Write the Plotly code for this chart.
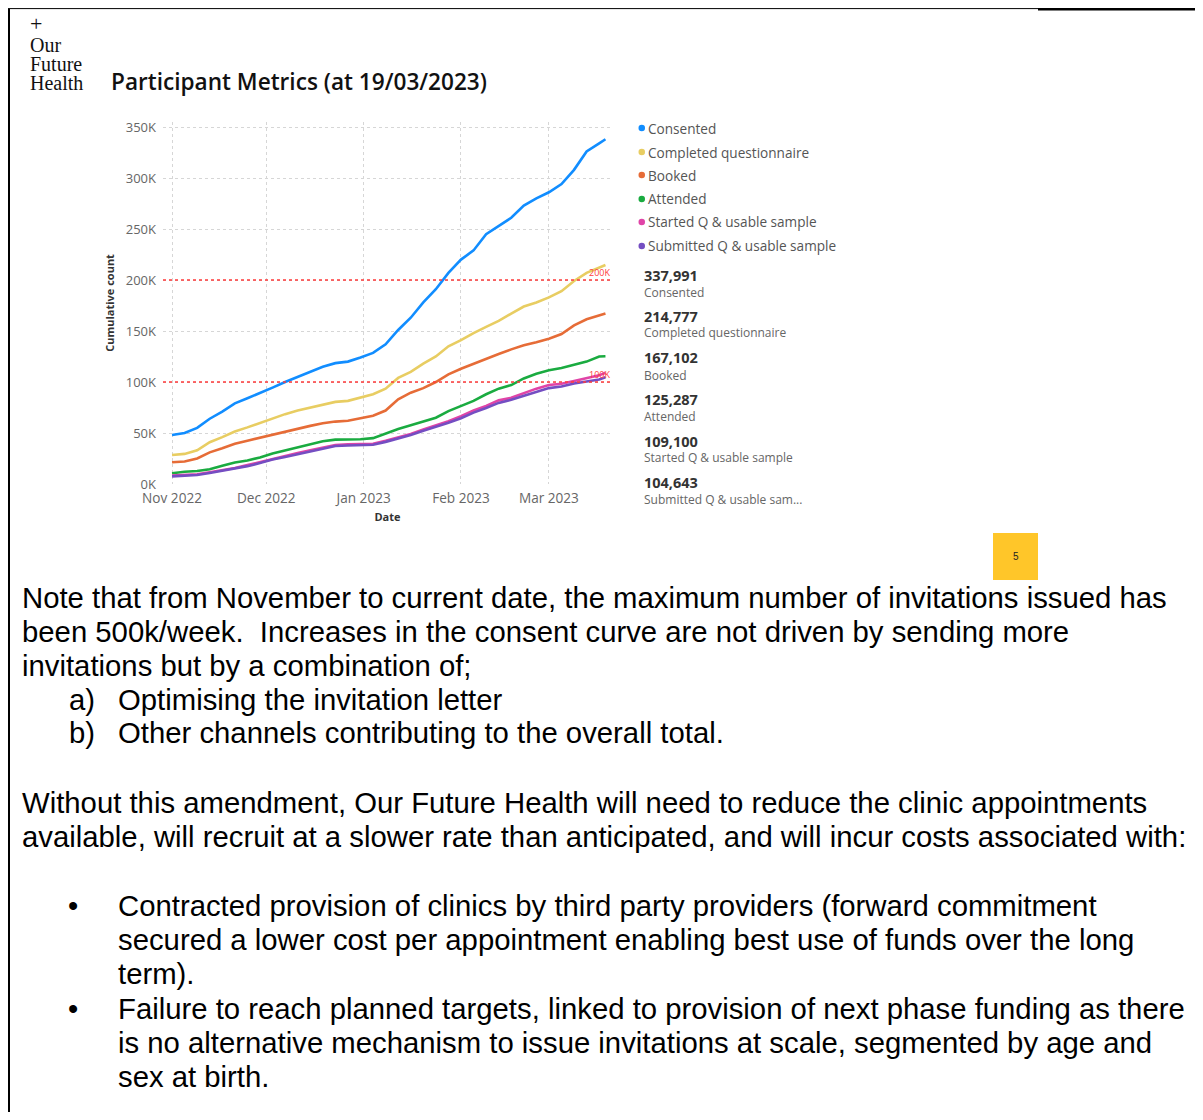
import plotly.graph_objects as go

# The page adds an 8px body margin, so the figure is sized to fill the window exactly.
PAGE_W, PAGE_H = 1203, 1120
OFF = 8
W, H = PAGE_W - 2 * OFF, PAGE_H - 2 * OFF

# ---------------- data ----------------
dates = ["2022-11-01", "2022-11-05", "2022-11-09", "2022-11-13", "2022-11-17", "2022-11-21",
         "2022-11-25", "2022-11-29", "2022-12-03", "2022-12-07", "2022-12-11", "2022-12-15",
         "2022-12-19", "2022-12-23", "2022-12-27", "2022-12-31", "2023-01-04", "2023-01-08",
         "2023-01-12", "2023-01-16", "2023-01-20", "2023-01-24", "2023-01-28", "2023-02-01",
         "2023-02-05", "2023-02-09", "2023-02-13", "2023-02-17", "2023-02-21", "2023-02-25",
         "2023-03-01", "2023-03-05", "2023-03-09", "2023-03-13", "2023-03-17", "2023-03-19"]

consented = [48000, 50000, 55000, 64000, 71000, 79000, 84000, 89000, 94500, 100000, 105000, 110000,
             115000, 118500, 120000, 124000, 128500, 137000, 151000, 163000, 178000, 191000, 207000, 220000,
             229000, 245000, 253000, 261000, 273000, 280000, 286000, 294000, 308000, 326000, 334000, 337991]
completed_q = [28500, 29500, 33000, 41000, 46000, 51500, 55500, 60000, 64500, 68500, 72000, 75000,
               78000, 80500, 81500, 85000, 88000, 93500, 104000, 110000, 118000, 125000, 135000, 141000,
               148000, 154000, 160000, 167000, 174000, 178000, 183000, 189000, 199000, 207000, 212000, 214777]
booked = [21300, 22000, 25000, 31000, 35000, 39500, 42500, 45500, 48500, 51500, 54000, 57000,
          59500, 61200, 62000, 64500, 67000, 72000, 83000, 89500, 94000, 100000, 107500, 113000,
          118000, 123000, 127500, 132000, 136000, 139000, 142500, 147000, 155500, 161500, 165500, 167102]
attended = [10500, 12000, 12700, 14500, 18000, 21000, 23000, 26000, 30000, 33000, 36000, 39000,
            42000, 43500, 43800, 43800, 45000, 49500, 54000, 57500, 61500, 65000, 71500, 76500,
            81500, 88000, 93500, 97000, 103500, 108000, 111500, 113800, 116800, 120000, 125000, 125287]
started_q = [8200, 9000, 9600, 11500, 13500, 15600, 18500, 21500, 25000, 27500, 30300, 33000,
             36000, 38300, 38900, 38900, 39500, 42300, 45800, 49000, 53500, 57500, 61500, 66500,
             72000, 76500, 82000, 84500, 89000, 93500, 97000, 98300, 101000, 103500, 106500, 109100]
submitted_q = [7500, 8300, 8800, 10800, 12800, 14800, 17500, 20500, 24000, 26500, 29300, 32000,
               35000, 37300, 37800, 37800, 38500, 41300, 44800, 48000, 52300, 56000, 60000, 64500,
               70000, 74500, 79500, 82500, 86500, 90500, 94000, 95500, 98500, 100500, 102500, 104643]

series_names = ["Consented", "Completed questionnaire", "Booked", "Attended",
                "Started Q & usable sample", "Submitted Q & usable sample"]
card_labels = ["Consented", "Completed questionnaire", "Booked", "Attended",
               "Started Q & usable sample", "Submitted Q & usable sam..."]
latest_totals = [337991, 214777, 167102, 125287, 109100, 104643]
reference_values = [200000, 100000]
reference_labels = ["200K", "100K"]
y_ticks = [0, 50000, 100000, 150000, 200000, 250000, 300000, 350000]
y_tick_labels = ["0K", "50K", "100K", "150K", "200K", "250K", "300K", "350K"]

colors = ["#118DFF", "#E8CD62", "#E66C37", "#1AAB40", "#E044A7", "#744EC2"]
all_series = [consented, completed_q, booked, attended, started_q, submitted_q]


def px(x):
    return (x - OFF) / W


def py(y):
    return 1 - (y - OFF) / H


fig = go.Figure()
for name, vals, col in zip(series_names, all_series, colors):
    fig.add_trace(go.Scatter(x=dates, y=vals, mode="lines", name=name,
                             line=dict(color=col, width=2.6), hoverinfo="skip"))

TICKFONT = "Open Sans"
fig.update_layout(
    width=W, height=H,
    margin=dict(l=0, r=0, t=0, b=0, autoexpand=False),
    paper_bgcolor="white", plot_bgcolor="white",
    showlegend=False,
    xaxis=dict(domain=[px(163), px(612)], type="date", automargin=False,
               range=["2022-10-29 03:00", "2023-03-21 02:00"],
               dtick="M1", tick0="2022-11-01", tickformat="%b %Y",
               showgrid=True, gridcolor="#D6D6D6", griddash="dot", gridwidth=1,
               showline=False, zeroline=False, ticks="", ticklabelstandoff=4,
               tickfont=dict(family=TICKFONT, size=13.6, color="#666666"),
               title=dict(text="Date", font=dict(family=TICKFONT, size=11, color="#333333", weight="bold"),
                          standoff=7)),
    yaxis=dict(domain=[py(484), py(121.9)], range=[0, 355000], automargin=False,
               tickvals=y_ticks, ticktext=y_tick_labels,
               showgrid=True, gridcolor="#D6D6D6", griddash="dot", gridwidth=1,
               showline=False, zeroline=False, ticks="", ticklabelstandoff=6,
               tickfont=dict(family=TICKFONT, size=13, color="#666666"),
               title=dict(text="Cumulative count", font=dict(family=TICKFONT, size=11, color="#333333", weight="bold"),
                          standoff=8)),
)

shapes = []
annotations = []

# reference lines
for val, lab in zip(reference_values, reference_labels):
    shapes.append(dict(type="line", xref="paper", yref="y", x0=px(163), x1=px(612), y0=val, y1=val,
                       line=dict(color="#FF3B3B", width=1.6, dash="dot")))
    annotations.append(dict(xref="x", yref="y", x="2023-03-17", y=val, text=lab, showarrow=False,
                            xanchor="center", yanchor="bottom", yshift=-1,
                            font=dict(family=TICKFONT, size=9, color="#FF4040")))

# legend (dots + names)
leg_y = [128, 152, 175, 199, 222, 246]
for name, col, yy in zip(series_names, colors, leg_y):
    shapes.append(dict(type="circle", xref="paper", yref="paper",
                       x0=px(638.5), x1=px(645), y0=py(yy + 3.2), y1=py(yy - 3.2),
                       fillcolor=col, line=dict(width=0)))
    annotations.append(dict(xref="paper", yref="paper", x=px(646), y=py(yy), text=name,
                            showarrow=False, xanchor="left", yanchor="middle",
                            font=dict(family=TICKFONT, size=13.6, color="#555555")))

# cards
card_y = [275, 316, 358, 399, 441, 482]
for lab, tot, yy in zip(card_labels, latest_totals, card_y):
    annotations.append(dict(xref="paper", yref="paper", x=px(642), y=py(yy), text=f"{tot:,}",
                            showarrow=False, xanchor="left", yanchor="middle",
                            font=dict(family=TICKFONT, size=14.5, color="#333333", weight="bold")))
    annotations.append(dict(xref="paper", yref="paper", x=px(642), y=py(yy + 17), text=lab,
                            showarrow=False, xanchor="left", yanchor="middle",
                            font=dict(family=TICKFONT, size=12, color="#666666")))

# title and logo
annotations.append(dict(xref="paper", yref="paper", x=px(109), y=py(81),
                        text="Participant Metrics (at 19/03/2023)", showarrow=False,
                        xanchor="left", yanchor="middle",
                        font=dict(family="Open Sans", size=22.6, color="#111111", weight=600)))
for txt, yy in zip(["+", "Our", "Future", "Health"], [23, 45, 64, 83]):
    annotations.append(dict(xref="paper", yref="paper", x=px(28), y=py(yy), text=txt,
                            showarrow=False, xanchor="left", yanchor="middle",
                            font=dict(family="Liberation Serif", size=20 if txt != "+" else 22,
                                      color="#111111")))

# page number box
shapes.append(dict(type="rect", xref="paper", yref="paper", x0=px(993), x1=px(1038),
                   y0=py(580), y1=py(533), fillcolor="#FFC629", line=dict(width=0)))
annotations.append(dict(xref="paper", yref="paper", x=px(1015.5), y=py(557), text="5",
                        showarrow=False, xanchor="center", yanchor="middle",
                        font=dict(family="Liberation Sans", size=10, color="#222222")))

# body text
BODY = dict(family="Liberation Sans", size=29.3, color="#000000")
body_lines = [
    (21, 597, "Note that from November to current date, the maximum number of invitations issued has"),
    (21, 631, "been 500k/week.  Increases in the consent curve are not driven by sending more"),
    (21, 665, "invitations but by a combination of;"),
    (68, 699, "a)"), (117, 699, "Optimising the invitation letter"),
    (68, 732, "b)"), (117, 732, "Other channels contributing to the overall total."),
    (21, 802, "Without this amendment, Our Future Health will need to reduce the clinic appointments"),
    (21, 836, "available, will recruit at a slower rate than anticipated, and will incur costs associated with:"),
    (67, 905, "•"), (117, 905, "Contracted provision of clinics by third party providers (forward commitment"),
    (117, 939, "secured a lower cost per appointment enabling best use of funds over the long"),
    (117, 973, "term)."),
    (67, 1008, "•"), (117, 1008, "Failure to reach planned targets, linked to provision of next phase funding as there"),
    (117, 1042, "is no alternative mechanism to issue invitations at scale, segmented by age and"),
    (117, 1076, "sex at birth."),
]
for x, y, t in body_lines:
    annotations.append(dict(xref="paper", yref="paper", x=px(x - 1), y=py(y), text=t,
                            showarrow=False, xanchor="left", yanchor="middle", font=BODY))

# page borders (kept just inside the figure)
shapes.append(dict(type="line", xref="paper", yref="paper", x0=px(9), x1=px(9), y0=py(9), y1=0,
                   line=dict(color="#000000", width=2)))
shapes.append(dict(type="line", xref="paper", yref="paper", x0=0, x1=px(1038), y0=py(8.6), y1=py(8.6),
                   line=dict(color="#000000", width=1)))
shapes.append(dict(type="line", xref="paper", yref="paper", x0=px(1038), x1=px(1195), y0=py(9.2), y1=py(9.2),
                   line=dict(color="#000000", width=2.5)))

fig.update_layout(shapes=shapes, annotations=annotations)
fig.write_html("out.html")
